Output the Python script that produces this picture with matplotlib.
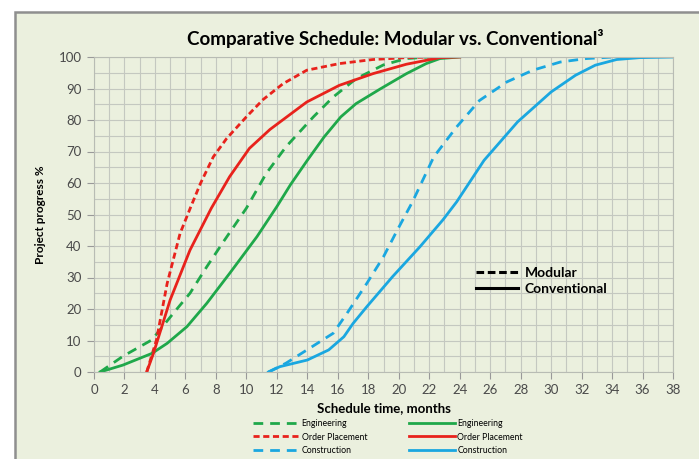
import matplotlib.pyplot as plt
from matplotlib.lines import Line2D
from matplotlib.patches import Rectangle

# progress curves (months, % complete)
eng_mod_x = [0.4, 1.9, 3.8, 5.2, 6.3, 7.4, 8.5, 10.0, 11.3, 12.6, 14.4, 15.7, 17.2, 19.0, 20.5, 22.0]
eng_mod_y = [0, 5, 10.2, 18.6, 25, 33.4, 41.4, 52, 63, 71.5, 81, 87.3, 93.1, 97.5, 99.5, 100]

eng_conv_x = [0.4, 1.9, 3.8, 4.8, 6.1, 7.4, 8.9, 10.7, 12.0, 12.9, 14.0, 15.1, 16.2, 17.2, 18.8, 20.5, 21.8, 22.7, 24.0]
eng_conv_y = [0, 2.2, 5.9, 9.1, 14.4, 21.8, 31.3, 43, 52.5, 59.5, 67.2, 74.6, 81, 85.2, 89.9, 94.7, 97.9, 99.5, 100]

ord_mod_x = [3.46, 4.1, 4.8, 5.65, 6.4, 7.0, 7.83, 8.7, 10.0, 11.1, 12.4, 13.96, 16.1, 18.3, 20.5, 22.3]
ord_mod_y = [0, 10.2, 28.1, 44, 53, 60, 68.3, 74.1, 81, 86.5, 91.5, 95.8, 97.9, 99.2, 99.8, 100]

ord_conv_x = [3.46, 3.9, 5.0, 6.3, 7.7, 8.9, 10.2, 11.55, 13.96, 16.1, 18.3, 20.5, 22.7, 24.0]
ord_conv_y = [0, 5.9, 22.9, 38.7, 52, 62, 71, 77, 85.7, 91, 94.7, 97.7, 99.8, 100]

con_mod_x = [11.45, 12.6, 14.3, 15.7, 16.6, 17.9, 19.0, 19.9, 20.9, 22.3, 23.8, 25.3, 27.1, 28.8, 30.6, 32.3, 34.1]
con_mod_y = [0, 2.8, 8, 12.3, 18.6, 28.1, 36.6, 45, 54, 68.3, 77.8, 86.2, 92.1, 95.8, 98.4, 99.5, 100]

con_conv_x = [11.45, 12.2, 14.0, 15.4, 16.4, 17.0, 17.9, 19.6, 21.4, 22.9, 23.8, 25.6, 27.8, 30.0, 31.6, 32.9, 34.3, 35.8, 38.0]
con_conv_y = [0, 1.7, 3.8, 7, 11.2, 15.4, 20.7, 30.3, 39.8, 48.3, 54, 67.2, 79.4, 88.9, 94.2, 97.4, 99.2, 99.8, 100]

x_ticks = list(range(0, 39, 2))
y_ticks = list(range(0, 101, 10))

green = '#1fa84a'
red = '#e8221c'
blue = '#1aa7e0'
panel = '#ebf0de'
font = 'Lato'

fig = plt.figure(figsize=(6.99, 4.59), dpi=100)
fig.patch.set_facecolor('white')
fig.patches.append(Rectangle((15 / 699, -0.05), 1.0, 1 - 12 / 459 + 0.05,
                             transform=fig.transFigure, facecolor=panel,
                             edgecolor='#8f8f8f', lw=1.8, zorder=-10))

ax = fig.add_axes([94 / 699, 1 - 372 / 459, 579 / 699, 315 / 459])
ax.set_facecolor(panel)

lw = 2.0
kw = dict(lw=lw, solid_joinstyle='round', dash_joinstyle='round')
ax.plot(eng_mod_x, eng_mod_y, color=green, dashes=(3.5, 2.5), **kw)
ax.plot(ord_mod_x, ord_mod_y, color=red, dashes=(2.2, 1.3), **kw)
ax.plot(con_mod_x, con_mod_y, color=blue, dashes=(3.5, 2.5), **kw)
ax.plot(eng_conv_x, eng_conv_y, color=green, **kw)
ax.plot(ord_conv_x, ord_conv_y, color=red, **kw)
ax.plot(con_conv_x, con_conv_y, color=blue, **kw)

ax.set_xlim(0, 38)
ax.set_ylim(0, 100)
ax.set_xticks(x_ticks)
ax.set_yticks(y_ticks)
ax.set_xticks(range(0, 39), minor=True)
ax.set_yticks(range(0, 101, 5), minor=True)
ax.grid(which='both', color='#c4c8c0', lw=0.8)
ax.set_axisbelow(True)
ax.tick_params(which='major', length=5, color='#999999', labelsize=9.5,
               labelcolor='#4a4a4a', pad=4)
ax.tick_params(which='minor', length=0)
for lab in ax.get_xticklabels() + ax.get_yticklabels():
    lab.set_fontfamily(font)
for s in ax.spines.values():
    s.set_color('#b8bcb4')

ax.set_xlabel('Schedule time, months', fontsize=9.5, fontweight='bold',
              family=font, labelpad=4)
ax.set_ylabel('Project progress %', fontsize=8.5, fontweight='bold',
              family=font, labelpad=9)

fig.text(395 / 699, 1 - 38 / 459, 'Comparative Schedule: Modular vs. Conventional\u00b3',
         ha='center', va='center', fontsize=13.5, fontweight='bold', family=font)

style = [Line2D([], [], color='black', lw=2.2, dashes=(2.5, 1.2)),
         Line2D([], [], color='black', lw=2.2)]
ax.legend(style, ['Modular', 'Conventional'], loc='upper left',
          bbox_to_anchor=(0.648, 0.355), frameon=False, handlelength=3.0,
          handletextpad=0.5, labelspacing=0.3, borderpad=0,
          prop={'family': font, 'weight': 'bold', 'size': 10})

handles = ax.get_lines()
fig.legend(handles, ['Engineering', 'Order Placement', 'Construction'] * 2,
           ncol=2, loc='center', bbox_to_anchor=(388 / 699, 1 - 437 / 459),
           frameon=False, handlelength=5.2, handletextpad=0.3,
           columnspacing=4.8, labelspacing=0.55,
           prop={'family': font, 'size': 6.3})

fig.savefig('out.png', dpi=100, facecolor='white')
